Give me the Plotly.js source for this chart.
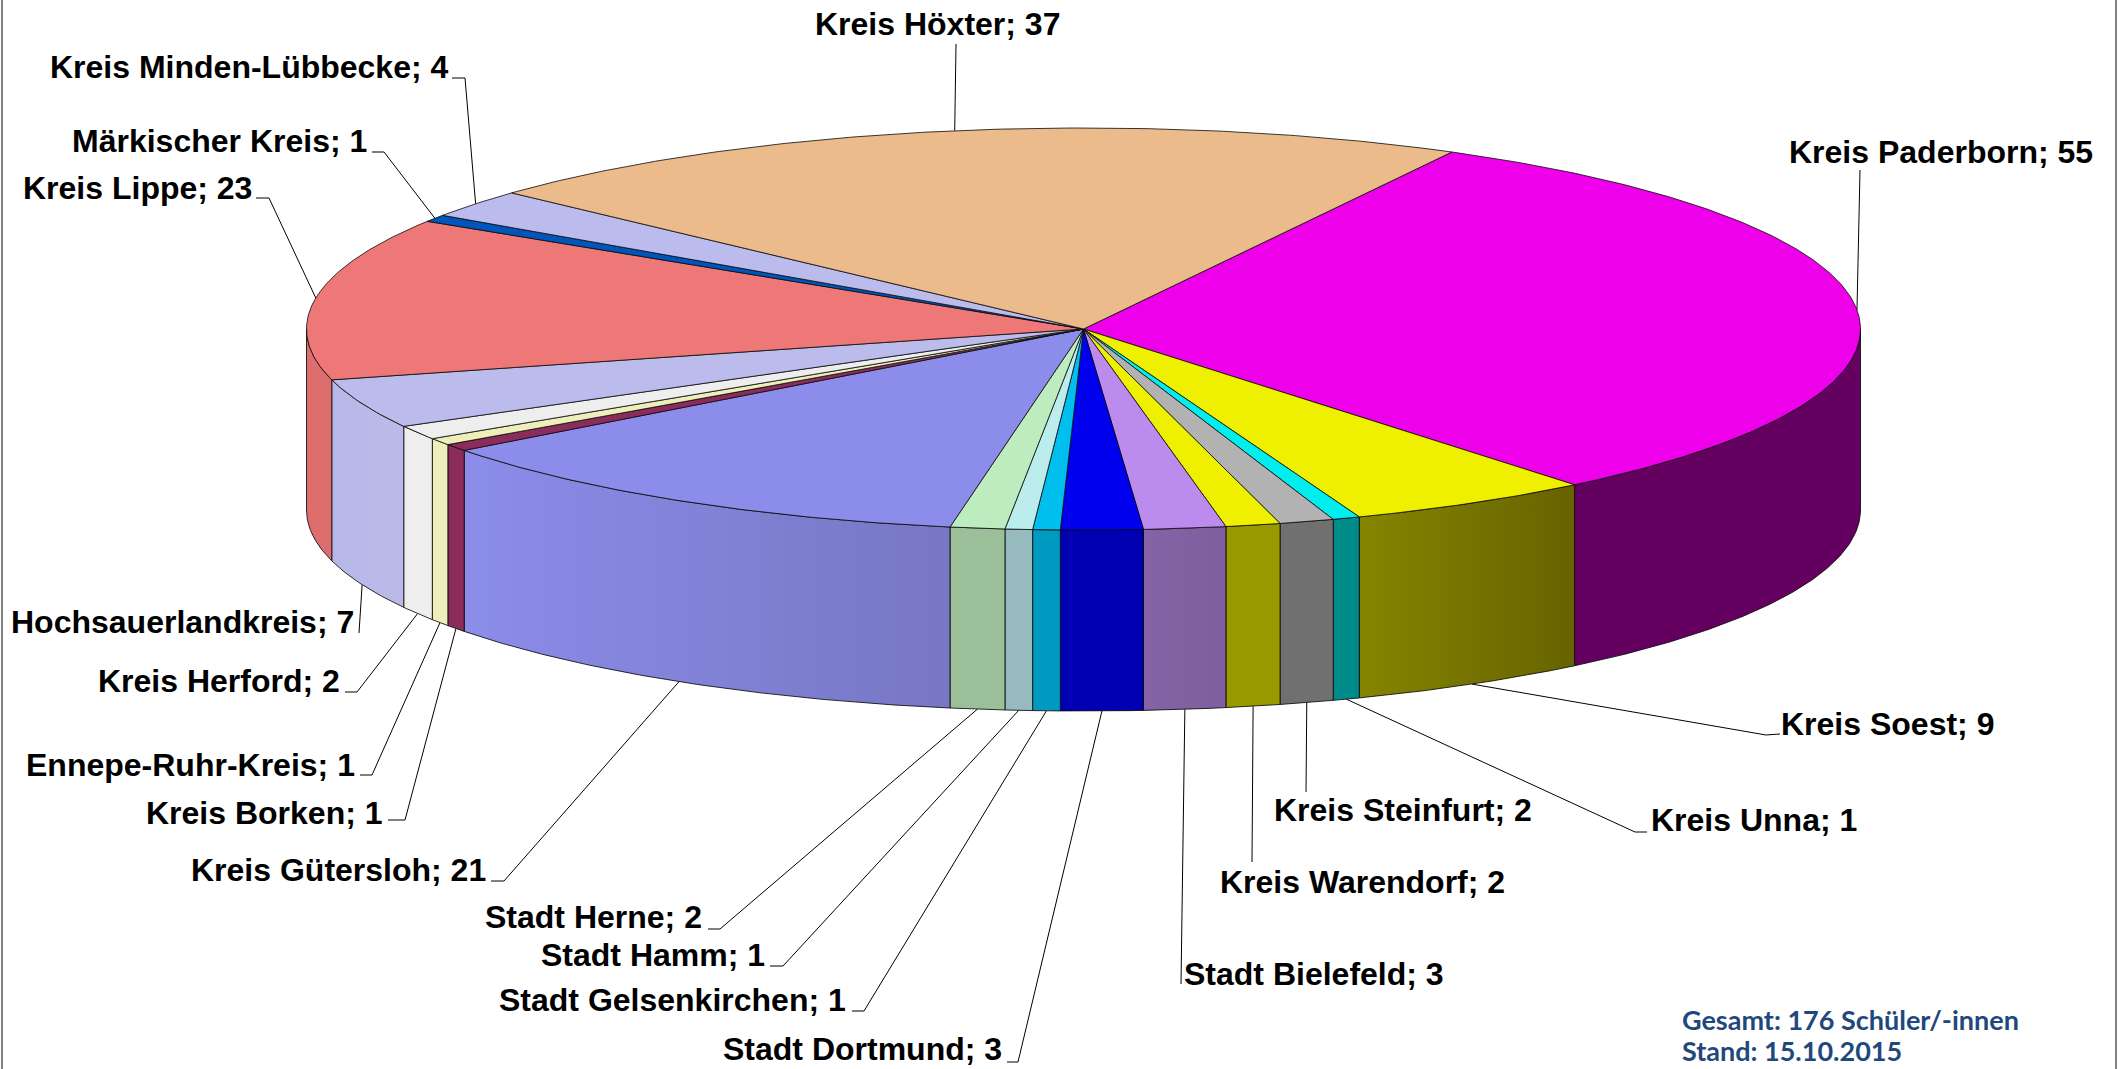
<!DOCTYPE html>
<html><head><meta charset="utf-8">
<script src="https://cdn.plot.ly/plotly-3.0.1.min.js"></script>
<style>html,body{margin:0;padding:0;background:#fff}#chart{width:2118px;height:1069px}</style>
</head><body><div id="chart"></div>
<script>
// ---- data ----
const regions = ["Kreis Paderborn","Kreis Soest","Kreis Unna","Kreis Steinfurt","Kreis Warendorf","Stadt Bielefeld","Stadt Dortmund","Stadt Gelsenkirchen","Stadt Hamm","Stadt Herne","Kreis Gütersloh","Kreis Borken","Ennepe-Ruhr-Kreis","Kreis Herford","Hochsauerlandkreis","Kreis Lippe","Märkischer Kreis","Kreis Minden-Lübbecke","Kreis Höxter"];
const pupils = [55,9,1,2,2,3,3,1,1,2,21,1,1,2,7,23,1,4,37];
// ---- styles ----
const topColors = ["#EE00EA","#EFEF00","#00EEEE","#B2B2B2","#EFEF00","#BB8BEE","#0000EE","#00BFEE","#BBEDED","#BDEDBF","#8C8CEA","#8B2C5C","#EEEEBB","#EEEEEE","#BBBBEC","#EE7777","#0055BB","#BBBBEE","#EBBB8B"];
const wallFrom = ["#630060","#858500","#008B8B","#707070","#999900","#8563A6","#0000B2","#0099BF","#97BABF","#9ABF99","#8C8CEA","#8B2C5C","#EEEEBB","#EEEEEE","#B8B8E8","#DE6E6E","#0055BB","#BBBBEE","#EBBB8B"];
const wallTo   = ["#630060","#666300","#008B8B","#707070","#999900","#7D5F9E","#0000B2","#0099BF","#97BABF","#9ABF99","#7777C4","#8B2C5C","#EEEEBB","#EEEEEE","#BBBBEA","#DE6E6E","#0055BB","#BBBBEE","#EBBB8B"];
// ---- layout (page pixels) ----
const cx=1083.5, cy=329, rx=777, ry=201, depth=181, startAngle=28.3;
const labelX = [1941,1887,1754,1403,1362,1314,862,672,653,593,338,264,190,219,182,137,219,249,937];
const labelY = [152,724,820,810,882,974,1049,1000,955,917,870,813,765,681,622,188,141,67,24];
// leader route from label to the pie rim, rim end comes from the slice's mid angle
const leaderRoute = [
 [[1860,170]],[[1780,734],[1766,735]],[[1647,832],[1635,832]],[[1306,792]],[[1252,862]],[[1181,984]],
 [[1007,1062],[1018,1062]],[[852,1011],[864,1011]],[[770,966],[783,966]],[[708,929],[720,929]],[[491,881],[504,881]],
 [[388,820],[405,820]],[[360,775],[372,775]],[[345,692],[357,692]],[[359,633]],[[256,198],[269,198]],[[372,152],[384,152]],[[452,78],[465,78]],[[956,44]]
];
const noteLines = ["Gesamt: 176 Schüler/-innen","Stand: 15.10.2015"];
const noteY = [1019,1050];

const total = pupils.reduce((a,b)=>a+b,0);
const rad = d=>d*Math.PI/180;
const px = a=>cx+rx*Math.sin(rad(a));
const py = a=>cy-ry*Math.cos(rad(a));
function arc(a,b){const n=Math.max(2,Math.ceil(Math.abs(b-a)/0.5));const out=[];for(let i=0;i<=n;i++)out.push(a+(b-a)*i/n);return out;}

const walls=[],tops=[],leaders=[],annotations=[];
let a0=startAngle;
pupils.forEach((v,i)=>{
  const a1=a0+v/total*360;
  const t=arc(a0,a1);
  tops.push({type:"scatter",mode:"lines",fill:"toself",fillcolor:topColors[i],hoverinfo:"skip",
    x:[cx,...t.map(px),cx],y:[cy,...t.map(py),cy],line:{color:"rgba(10,10,10,0.8)",width:1}});
  const w0=Math.max(a0,90),w1=Math.min(a1,270);
  if(w1>w0){
    const w=arc(w0,w1);
    const tr={type:"scatter",mode:"lines",fill:"toself",hoverinfo:"skip",
      x:[...w.map(px),...w.slice().reverse().map(px),px(w0)],
      y:[...w.map(py),...w.slice().reverse().map(a=>py(a)+depth),py(w0)],
      line:{color:"rgba(10,10,10,0.85)",width:1}};
    if(wallFrom[i]===wallTo[i]) tr.fillcolor=wallFrom[i];
    else tr.fillgradient={type:"horizontal",colorscale:[[0,wallFrom[i]],[1,wallTo[i]]]};
    walls.push(tr);
  }
  const mid=(a0+a1)/2, front=mid>90&&mid<270;
  const route=[...leaderRoute[i],[px(mid),py(mid)+(front?depth:0)]];
  leaders.push({type:"scatter",mode:"lines",hoverinfo:"skip",x:route.map(p=>p[0]),y:route.map(p=>p[1]),line:{color:"#000",width:1}});
  annotations.push({xref:"x",yref:"y",x:labelX[i],y:labelY[i],xanchor:"center",yanchor:"middle",showarrow:false,
    text:regions[i]+"; "+v,font:{family:"Liberation Sans, Arial, sans-serif",size:32,color:"#000",weight:700}});
  a0=a1;
});
noteLines.forEach((t,i)=>annotations.push({xref:"x",yref:"y",x:1680,y:noteY[i],xanchor:"left",yanchor:"middle",showarrow:false,
  text:t,font:{family:"Lato, sans-serif",size:27,color:"#1F497D",weight:700}}));

const hidden=r=>({range:r,visible:false,fixedrange:true,showgrid:false,zeroline:false});
Plotly.newPlot("chart",[...leaders,...walls,...tops],{
  width:2118,height:1069,margin:{l:0,r:0,t:0,b:0},showlegend:false,
  paper_bgcolor:"#fff",plot_bgcolor:"#fff",
  xaxis:hidden([0,2118]),yaxis:hidden([1069,0]),
  annotations,
  shapes:[{type:"line",xref:"paper",yref:"paper",x0:0.00095,x1:0.00095,y0:0,y1:1,line:{color:"#808080",width:2}},
          {type:"line",xref:"paper",yref:"paper",x0:0.99905,x1:0.99905,y0:0,y1:1,line:{color:"#808080",width:2}}]
},{staticPlot:true,displayModeBar:false});
</script></body></html>
